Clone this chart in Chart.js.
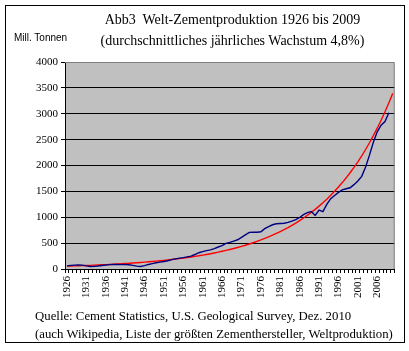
<!DOCTYPE html>
<html>
<head>
<meta charset="utf-8">
<script src="https://cdn.jsdelivr.net/npm/chart.js@4.4.1/dist/chart.umd.min.js"></script>
<style>
  html, body { margin: 0; padding: 0; background: #fff; }
  #wrap { position: relative; width: 409px; height: 351px; overflow: hidden; }
  #frame { position: absolute; left: 5px; top: 5px; width: 398px; height: 336px; border: 1px solid #000; }
  canvas { position: absolute; left: 0; top: 0; }
  .txt { position: absolute; white-space: nowrap; color: #000; }
  .serif { font-family: "Liberation Serif", "Times New Roman", serif; }
  #title { left: 65px; width: 335px; top: 9px; text-align: center; font-size: 14px; line-height: 21px; }
  #unit { left: 14px; top: 32px; font-family: "Liberation Sans", Arial, sans-serif; font-size: 10px; }
  #source { left: 35px; top: 307px; font-size: 12.8px; line-height: 18px; }
</style>
</head>
<body>
<div id="wrap">
  <div id="frame"></div>
  <canvas id="chart" width="409" height="351"></canvas>
  <div id="title" class="txt serif">Abb3&nbsp; Welt-Zementproduktion 1926 bis 2009<br>(durchschnittliches jährliches Wachstum 4,8%)</div>
  <div id="unit" class="txt">Mill. Tonnen</div>
  <div id="source" class="txt serif">Quelle: Cement Statistics, U.S. Geological Survey, Dez. 2010<br>(auch Wikipedia, Liste der größten Zementhersteller, Weltproduktion)</div>
</div>
<script>
// years on the category axis (trend line runs one year further)
const years = [];
for (let y = 1926; y <= 2010; y++) years.push(String(y));

// world cement production, million tonnes
const production = [
    60, 70, 75, 77, 75, 60, 48, 50, 58, 68,
    78, 85, 86, 88, 85, 88, 82, 70, 55, 48,
    65, 88, 105, 120, 133, 145, 160, 180, 195, 210,
    220, 235, 250, 280, 315, 335, 355, 370, 395, 425,
    450, 495, 515, 540, 565, 610, 660, 705, 712, 710,
    720, 780, 820, 855, 875, 880, 885, 900, 925, 955,
    995, 1050, 1090, 1110, 1035, 1140, 1110, 1250, 1360, 1420,
    1480, 1530, 1550, 1570, 1630, 1700, 1790, 1970, 2200, 2450,
    2650, 2780, 2850, 3020
];

// red trend curve
const trend = [
    55, 57, 60, 62, 65, 68, 71, 74, 77, 81,
    84, 88, 92, 97, 101, 106, 110, 116, 121, 127,
    133, 139, 145, 152, 159, 167, 175, 183, 192, 201,
    211, 221, 232, 244, 255, 268, 281, 295, 310, 325,
    342, 359, 377, 396, 416, 437, 459, 483, 507, 534,
    561, 590, 621, 653, 687, 723, 761, 801, 844, 888,
    935, 985, 1038, 1094, 1152, 1215, 1280, 1350, 1423, 1501,
    1583, 1670, 1762, 1860, 1963, 2072, 2187, 2309, 2439, 2576,
    2721, 2875, 3038, 3211, 3394
];

const yMax = 4000;
const yStep = 500;

// gray plot area with a gray frame on top and right
const plotBg = {
    id: 'plotBg',
    beforeDraw: (chart) => {
        const { ctx, chartArea: a } = chart;
        ctx.save();
        ctx.fillStyle = '#c0c0c0';
        ctx.fillRect(a.left, a.top, a.right - a.left, a.bottom - a.top);
        ctx.restore();
    },
    afterDraw: (chart) => {
        const { ctx, chartArea: a } = chart;
        ctx.save();
        ctx.strokeStyle = '#808080';
        ctx.lineWidth = 1;
        ctx.beginPath();
        ctx.moveTo(a.left, a.top + 0.5);
        ctx.lineTo(a.right - 0.5, a.top + 0.5);
        ctx.lineTo(a.right - 0.5, a.bottom);
        ctx.stroke();
        ctx.restore();
    }
};

const serif = { family: "'Liberation Serif', 'Times New Roman', serif", size: 11 };

new Chart(document.getElementById('chart'), {
    type: 'line',
    data: {
        labels: years,
        datasets: [
            {
                label: 'Weltproduktion',
                data: production,
                borderColor: '#000080',
                borderWidth: 1.4,
                pointRadius: 0,
                tension: 0
            },
            {
                label: 'Trend 4,8%',
                data: trend,
                borderColor: '#ff0000',
                borderWidth: 1.4,
                pointRadius: 0,
                tension: 0
            }
        ]
    },
    options: {
        responsive: false,
        animation: false,
        events: [],
        layout: { padding: { left: 5, top: 62, right: 9, bottom: 0 } },
        plugins: {
            legend: { display: false },
            title: { display: false },
            tooltip: { enabled: false }
        },
        scales: {
            x: {
                type: 'category',
                offset: true,
                afterFit: (s) => { s.height = 82; },
                grid: {
                    offset: true,
                    drawOnChartArea: false,
                    drawTicks: true,
                    tickLength: 4,
                    color: '#000'
                },
                border: { color: '#000', width: 1 },
                ticks: {
                    autoSkip: false,
                    minRotation: 90,
                    maxRotation: 90,
                    padding: 3,
                    color: '#000',
                    font: serif,
                    callback: function (val, i) {
                        return (i % 5 === 0) ? years[i] : '';
                    }
                }
            },
            y: {
                min: 0,
                max: yMax,
                afterFit: (s) => { s.width = 60; },
                grid: {
                    color: (c) => c.tick && c.tick.value === yMax ? 'rgba(0,0,0,0)' : '#000',
                    tickColor: '#000',
                    tickLength: 4,
                    lineWidth: 1
                },
                border: { color: '#000', width: 1 },
                ticks: {
                    stepSize: yStep,
                    padding: 3,
                    color: '#000',
                    font: serif,
                    callback: (v) => String(v)
                }
            }
        }
    },
    plugins: [plotBg]
});
</script>
</body>
</html>
